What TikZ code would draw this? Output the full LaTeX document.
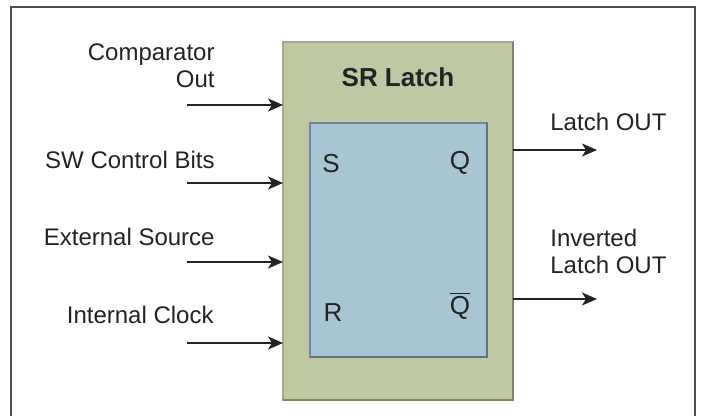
\documentclass[tikz,border=0pt]{standalone}
\usepackage{fontspec}
\setmainfont{Liberation Sans}
\usepackage{xcolor}
\usetikzlibrary{arrows.meta,positioning,calc}

\definecolor{latchgreen}{RGB}{190,200,163}
\definecolor{latchedge}{RGB}{160,172,135}
\definecolor{latchshade}{RGB}{125,135,105}
\definecolor{coreblue}{RGB}{167,197,210}
\definecolor{coreedge}{RGB}{115,135,155}
\definecolor{inkgray}{RGB}{35,35,35}

\begin{document}
\begin{tikzpicture}[
    x=0.5pt, y=-0.5pt,
    outer/.style={draw=latchedge, fill=latchgreen, line width=1pt, minimum width=115pt, minimum height=179pt, inner sep=0pt, outer sep=0pt},
    core/.style={draw=coreedge, fill=coreblue, line width=1pt, minimum width=88.5pt, minimum height=117pt, inner sep=0pt, outer sep=0pt},
    pin/.style={font=\fontsize{13}{15}\selectfont, text=inkgray, inner sep=0pt},
    sig/.style={font=\fontsize{12}{13.5}\selectfont, text=inkgray, inner sep=0pt},
    arrow/.style={-{Stealth[length=7.5pt, width=6.5pt, inset=2pt]}, line width=0.6pt, draw=inkgray}
]
    \useasboundingbox (0,0) rectangle (702,416);

    % Frame
    \draw [line width=0.8pt, draw=inkgray!80] (11,416) -- (11,7) -- (695,7) -- (695,416);

    % Latch blocks
    \node [outer] (latch) at (398,221) {};
    \draw [line width=1.2pt, draw=latchshade] (latch.north east) -- (latch.south east) -- (latch.south west);
    \node [core] (core) at (398.5,240) {};
    \draw [line width=1.2pt, draw=coreedge!85!black] (core.north east) -- (core.south east) -- (core.south west);

    \node [font=\bfseries\fontsize{13}{15}\selectfont, text=inkgray] (title) at (398,77) {SR Latch};

    % Pins
    \node [pin] (pin_s) at (331,164) {S};
    \node [pin] (pin_q) at (460,163) {Q};
    \node [pin] (pin_r) at (333,313) {R};
    \node [pin] (pin_qbar) at (460,306) {$\overline{\mbox{Q}}$};

    % Inputs
    \coordinate (in_comp) at (187,105);
    \coordinate (in_sw) at (187,183);
    \coordinate (in_ext) at (187,262);
    \coordinate (in_clk) at (187,343);

    \node [sig, align=right, anchor=east] (lbl_comp) at (215,66) {Comparator\\Out};
    \node [sig, anchor=east] (lbl_sw) at (215,160) {SW Control Bits};
    \node [sig, anchor=east] (lbl_ext) at (215,237) {External Source};
    \node [sig, anchor=east] (lbl_clk) at (214,315) {Internal Clock};

    % Outputs
    \coordinate (out_q) at (597,150);
    \coordinate (out_qbar) at (597,299);

    \node [sig, anchor=west] (lbl_q) at (550,122) {Latch OUT};
    \node [sig, align=left, anchor=west] (lbl_qbar) at (550,251) {Inverted\\Latch OUT};

    % Connections
    \draw [arrow] (in_comp) -- (in_comp -| latch.west);
    \draw [arrow] (in_sw) -- (in_sw -| latch.west);
    \draw [arrow] (in_ext) -- (in_ext -| latch.west);
    \draw [arrow] (in_clk) -- (in_clk -| latch.west);

    \draw [arrow] (out_q -| latch.east) -- (out_q);
    \draw [arrow] (out_qbar -| latch.east) -- (out_qbar);

\end{tikzpicture}
\end{document}
